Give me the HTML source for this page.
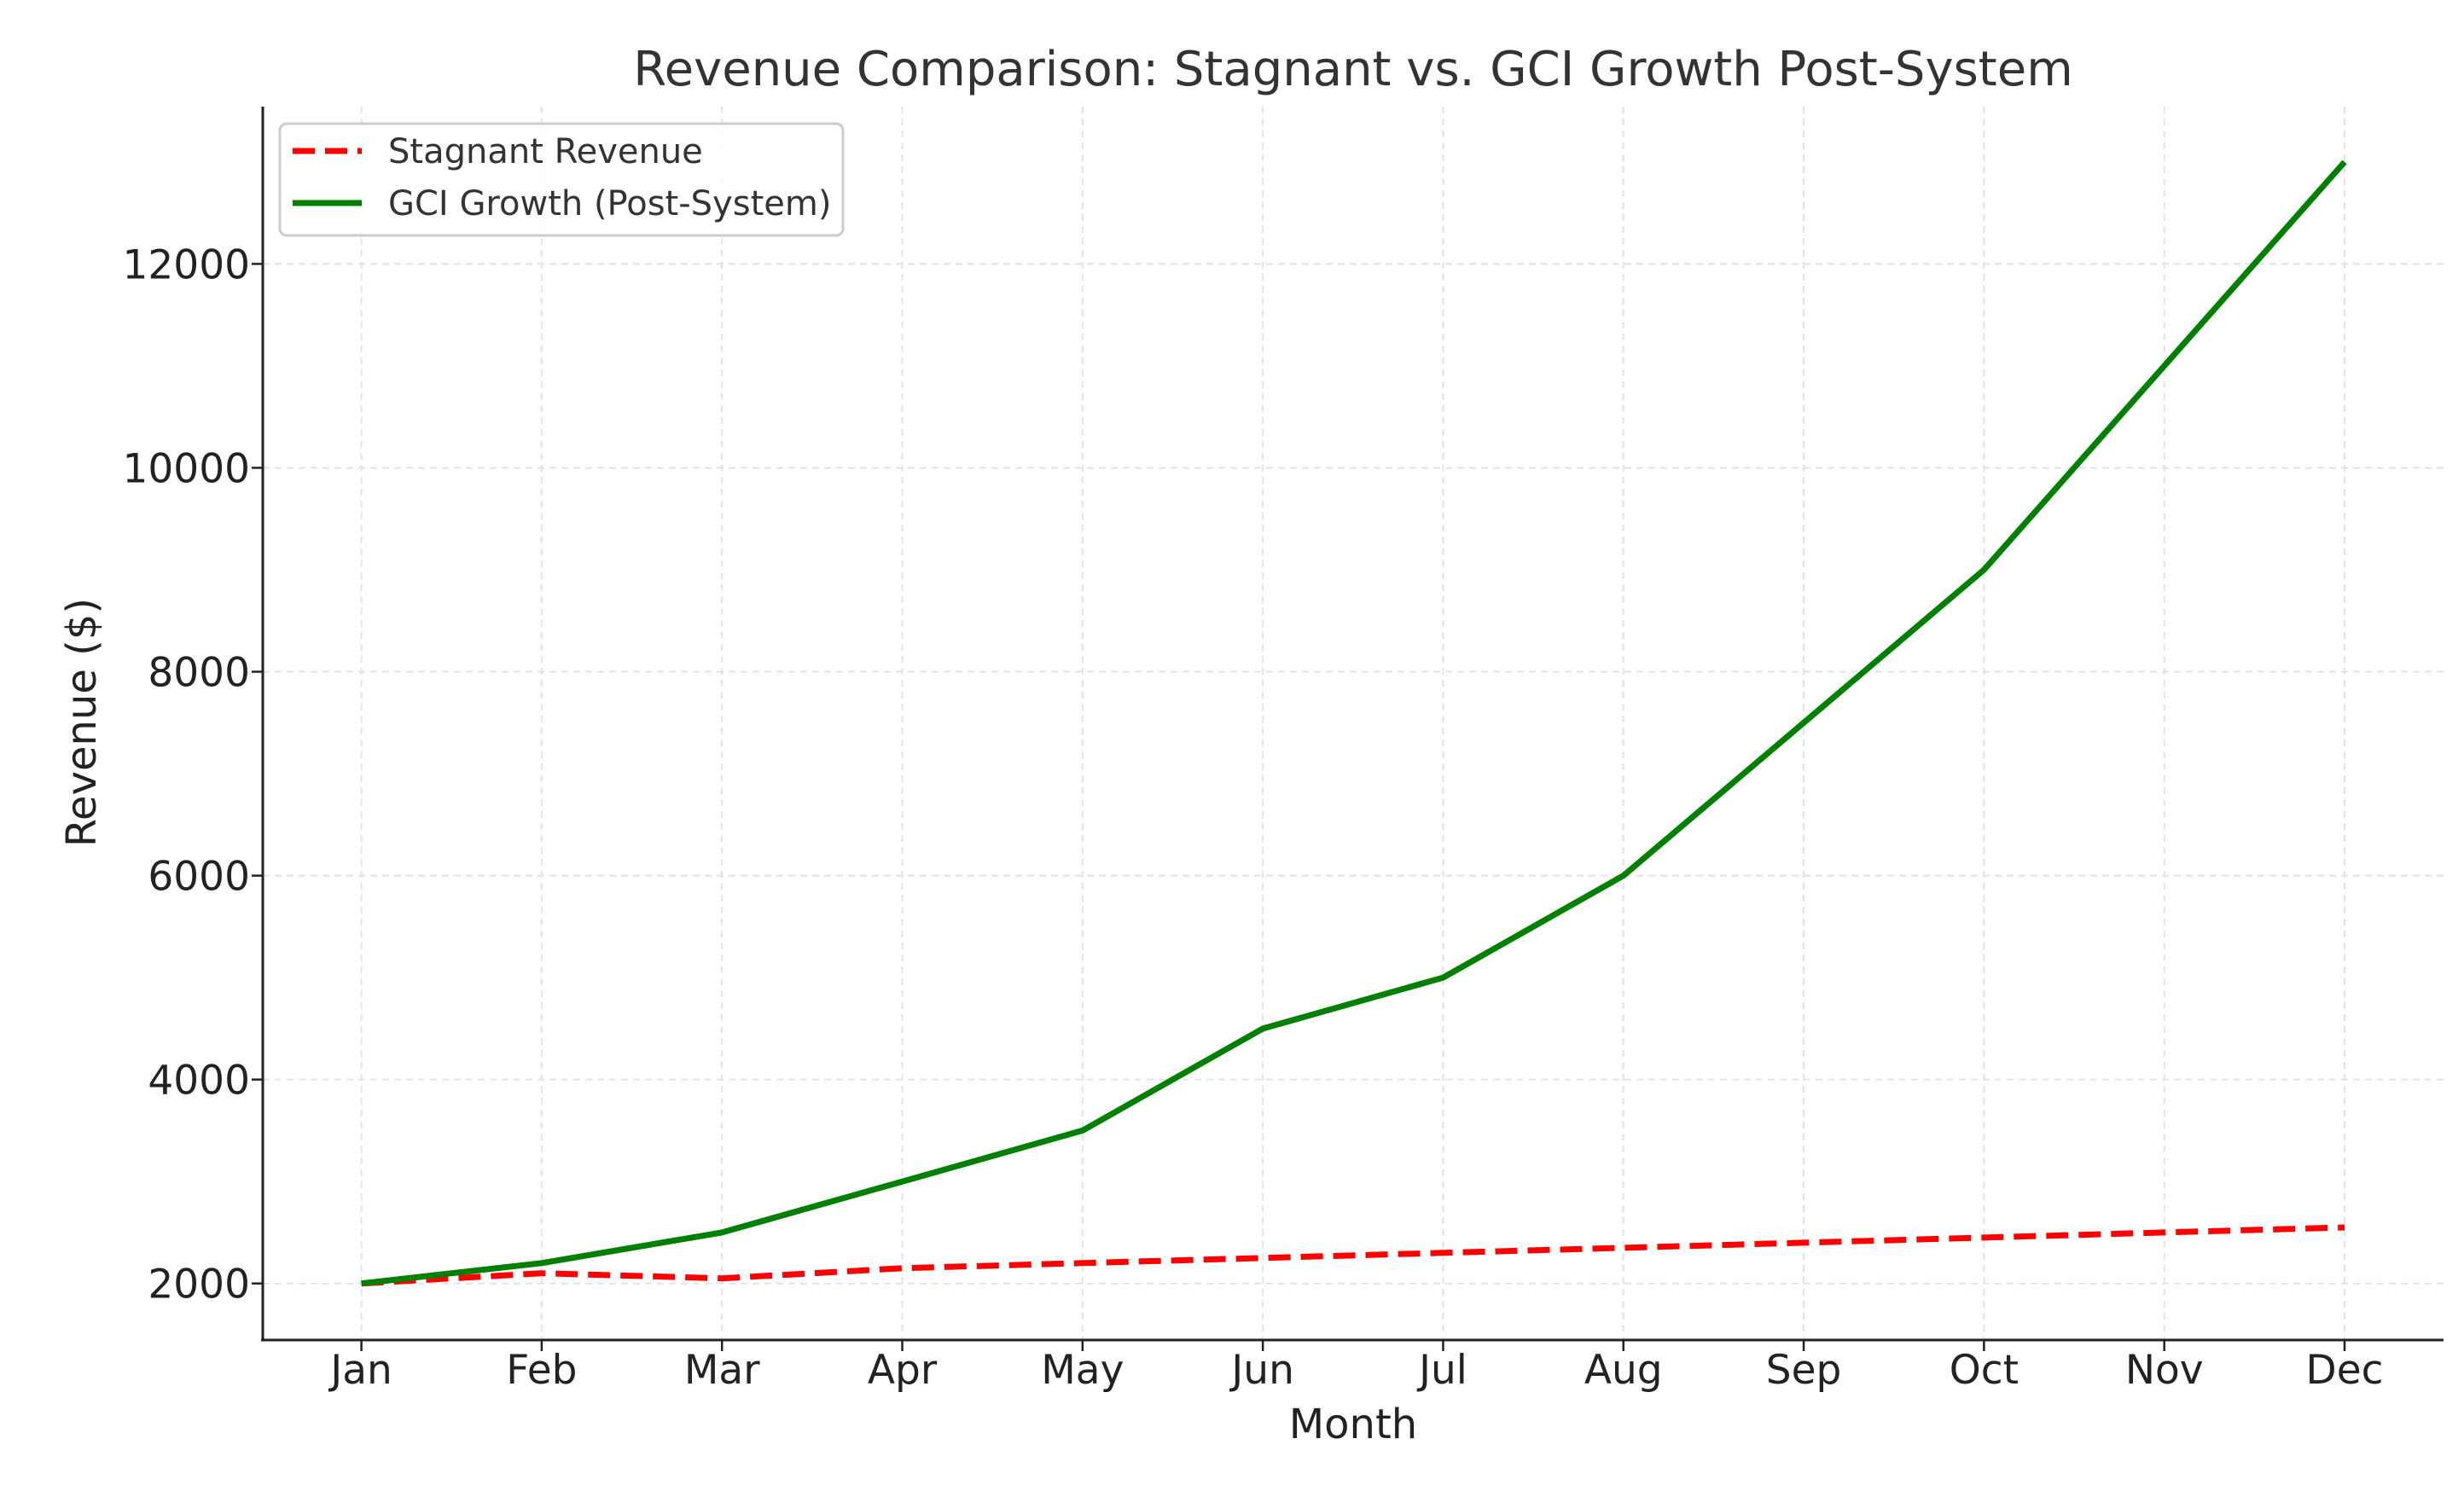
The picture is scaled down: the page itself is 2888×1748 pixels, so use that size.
<!DOCTYPE html>
<html><head><meta charset="utf-8"><style>
body{margin:0;background:#fff;}
svg{display:block;font-family:"DejaVu Sans","Liberation Sans",sans-serif;}
</style></head><body>
<svg id="chart" width="2888" height="1748" viewBox="0 0 2888 1748" xmlns="http://www.w3.org/2000/svg">
<rect width="2888" height="1748" fill="#fff"/>
<text x="1586" y="100" text-anchor="middle" font-size="56" fill="#333">Revenue Comparison: Stagnant vs. GCI Growth Post-System</text>
<g id="grid"></g>
<g id="series"></g>
<line x1="308" y1="125" x2="308" y2="1572" stroke="#222" stroke-width="3"/>
<line x1="306" y1="1571" x2="2864" y2="1571" stroke="#222" stroke-width="3"/>
<g id="ticks"></g>
<text x="1586" y="1686" text-anchor="middle" font-size="48" fill="#222">Month</text>
<text transform="translate(112,847) rotate(-90)" text-anchor="middle" font-size="48" fill="#222">Revenue ($)</text>
<g>
<rect x="328" y="145" width="660" height="131" rx="8" fill="#fff" fill-opacity="0.85" stroke="#ccc" stroke-width="3"/>
<line x1="343" y1="177" x2="424" y2="177" stroke="#ff0000" stroke-width="7" stroke-dasharray="26,12"/>
<text x="455" y="191" font-size="40" fill="#333">Stagnant Revenue</text>
<line x1="343" y1="238" x2="424" y2="238" stroke="#008000" stroke-width="7"/>
<text x="455" y="252" font-size="40" fill="#333">GCI Growth (Post-System)</text>
</g>
</svg>
<script>
const months=["Jan","Feb","Mar","Apr","May","Jun","Jul","Aug","Sep","Oct","Nov","Dec"];
const stagnant=[2000,2100,2050,2150,2200,2250,2300,2350,2400,2450,2500,2550];
const gci=[2000,2200,2500,3000,3500,4500,5000,6000,7500,9000,11000,13000];
const yTicks=[2000,4000,6000,8000,10000,12000];
const NS="http://www.w3.org/2000/svg";
const x0=423.6,x1=2748,yA=1504.7,yB=309.4;
function xs(i){return x0+(x1-x0)*i/(months.length-1);}
function ys(v){return yA+(yB-yA)*(v-2000)/10000;}
function mk(tag,attrs,parent){const e=document.createElementNS(NS,tag);for(const k in attrs)e.setAttribute(k,attrs[k]);parent.appendChild(e);return e;}
const grid=document.getElementById('grid'),ticks=document.getElementById('ticks'),series=document.getElementById('series');
months.forEach((m,i)=>{
 const g=mk('line',{x1:xs(i),x2:xs(i),y1:125,y2:1571,stroke:'#e3e3e3','stroke-width':2,'stroke-dasharray':'8,6'},grid);
 
 
 mk('line',{x1:xs(i),x2:xs(i),y1:1571,y2:1584,stroke:'#222','stroke-width':2.5},ticks);
 const t=mk('text',{x:xs(i),y:1622,'text-anchor':'middle','font-size':47,fill:'#222'},ticks);
 t.textContent=m;
 
 
});
yTicks.forEach(v=>{
 const g=mk('line',{x1:308,x2:2864,y1:ys(v),y2:ys(v),stroke:'#e3e3e3','stroke-width':2,'stroke-dasharray':'8,6'},grid);
 
 
 mk('line',{x1:295,x2:308,y1:ys(v),y2:ys(v),stroke:'#222','stroke-width':2.5},ticks);
 const t=mk('text',{x:293,y:ys(v)+17,'text-anchor':'end','font-size':47,fill:'#222'},ticks);
 t.textContent=v;
 
 
});
function path(arr){return arr.map((v,i)=>(i?'L':'M')+xs(i).toFixed(1)+','+ys(v).toFixed(1)).join(' ');}
const p1=mk('path',{d:path(stagnant),fill:'none',stroke:'#ff0000','stroke-width':7,'stroke-dasharray':'26,12'},series);


const p2=mk('path',{d:path(gci),fill:'none',stroke:'#008000','stroke-width':7,'stroke-linejoin':'round'},series);


</script>
</body></html>
